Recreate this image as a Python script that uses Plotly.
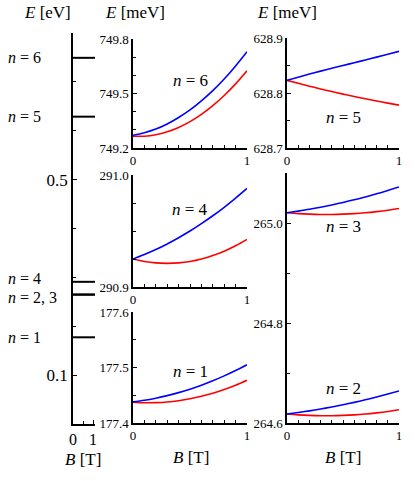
import plotly.graph_objects as go

# ------------------------------
# Data
# ------------------------------
B = [0.0, 0.1, 0.2, 0.3, 0.4, 0.5, 0.6, 0.7, 0.8, 0.9, 1.0]

n6_blue = [749.270, 749.284, 749.304, 749.332, 749.368, 749.410, 749.460, 749.516, 749.580, 749.652, 749.730]
n6_red = [749.265, 749.265, 749.273, 749.289, 749.313, 749.345, 749.385, 749.433, 749.489, 749.553, 749.625]

n4_blue = [290.9250, 290.9290, 290.9334, 290.9384, 290.9440, 290.9500, 290.9566, 290.9636, 290.9712, 290.9794, 290.9880]
n4_red = [290.9250, 290.9228, 290.9215, 290.9211, 290.9215, 290.9228, 290.9250, 290.9281, 290.9320, 290.9368, 290.9425]

n1_blue = [177.4380, 177.4409, 177.4447, 177.4493, 177.4547, 177.4610, 177.4681, 177.4761, 177.4849, 177.4945, 177.5050]
n1_red = [177.4375, 177.4365, 177.4367, 177.4379, 177.4402, 177.4436, 177.4481, 177.4537, 177.4604, 177.4681, 177.4770]

n5_blue = [628.8230, 628.8288, 628.8344, 628.8398, 628.8450, 628.8500, 628.8550, 628.8601, 628.8652, 628.8704, 628.8757]
n5_red = [628.8230, 628.8176, 628.8124, 628.8074, 628.8026, 628.7980, 628.7936, 628.7894, 628.7854, 628.7816, 628.7780]

n3_blue = [265.0205, 265.0238, 265.0274, 265.0315, 265.0361, 265.0410, 265.0464, 265.0521, 265.0583, 265.0650, 265.0720]
n3_red = [265.0205, 265.0188, 265.0177, 265.0171, 265.0171, 265.0177, 265.0188, 265.0205, 265.0228, 265.0256, 265.0290]

n2_blue = [264.6180, 264.6210, 264.6243, 264.6280, 264.6321, 264.6365, 264.6413, 264.6464, 264.6519, 264.6578, 264.6640]
n2_red = [264.6180, 264.6163, 264.6152, 264.6146, 264.6146, 264.6152, 264.6163, 264.6180, 264.6203, 264.6231, 264.6265]

# level scheme (eV) and its labels
levels_eV = [0.1774, 0.2646, 0.2650, 0.2909, 0.6288, 0.7492]
level_label_text = ["<i>n</i> = 1", "<i>n</i> = 2, 3", "<i>n</i> = 4", "<i>n</i> = 5", "<i>n</i> = 6"]
level_label_pos = [0.1774, 0.2646, 0.2909, 0.6288, 0.7492]
level_label_nudge = [0, -3, 3, 0, 0]   # px, pulls the crowded n=2,3 / n=4 labels apart

W, H = 415, 481
SERIF = "Liberation Serif"
BLUE = "#0000ff"
RED = "#ff0000"


def px(x):
    return x / W


def py(y):
    return 1 - y / H


fig = go.Figure()

# ------------------------------
# Left panel: level scheme
# ------------------------------
for e in levels_eV:
    fig.add_trace(go.Scatter(x=[0, 1.1], y=[e, e], mode="lines",
                             line=dict(color="black", width=2),
                             xaxis="x", yaxis="y", showlegend=False, hoverinfo="skip"))

# ------------------------------
# Zeeman panels
# ------------------------------
panels = [
    (n6_blue, n6_red, "2"),
    (n4_blue, n4_red, "3"),
    (n1_blue, n1_red, "4"),
    (n5_blue, n5_red, "5"),
    (n3_blue, n3_red, "6"),
    (n2_blue, n2_red, "6"),
]
for blue, red, ax in panels:
    fig.add_trace(go.Scatter(x=B, y=red, mode="lines", line=dict(color=RED, width=1.6),
                             line_shape="spline", xaxis="x" + ax, yaxis="y" + ax, showlegend=False))
    fig.add_trace(go.Scatter(x=B, y=blue, mode="lines", line=dict(color=BLUE, width=1.6),
                             line_shape="spline", xaxis="x" + ax, yaxis="y" + ax, showlegend=False))


def xax(x0, x1, y_anchor, rng=(0, 1), minor_vals=None, size=13):
    return dict(domain=[px(x0), px(x1)], range=list(rng), anchor=y_anchor, automargin=False,
                showline=True, linecolor="black", linewidth=1.5, showgrid=False, zeroline=False,
                tickmode="array", tickvals=[0, 1], ticktext=["0", "1"],
                ticks="inside", ticklen=4, tickcolor="black",
                minor=dict(tickvals=minor_vals or [0.1 * i for i in range(1, 10)],
                           ticks="inside", ticklen=3, tickcolor="black"),
                tickfont=dict(family=SERIF, size=size, color="black"))


def yax(top, bottom, x_anchor, rng, major, minor, size=13):
    return dict(domain=[py(bottom), py(top)], range=list(rng), anchor=x_anchor, automargin=False,
                showline=True, linecolor="black", linewidth=1.5, showgrid=False, zeroline=False,
                tickmode="array", tickvals=major, ticktext=[f"{v:.1f}" for v in major],
                ticks="inside", ticklen=4, tickcolor="black",
                minor=dict(tickvals=minor, ticks="inside", ticklen=3, tickcolor="black"),
                tickfont=dict(family=SERIF, size=size, color="black"))


layout = dict(
    width=W, height=H, margin=dict(l=0, r=0, t=0, b=0, pad=0),
    paper_bgcolor="white", plot_bgcolor="rgba(0,0,0,0)",
    xaxis=xax(73, 95, "y", rng=(0, 1.1), minor_vals=[0.5], size=16),
    yaxis=yax(33, 424, "x", (0, 0.8), [0.1, 0.5],
              [0.2, 0.3, 0.4, 0.6, 0.7], size=17),
    xaxis2=xax(133, 247, "y2"),
    yaxis2=yax(39, 148, "x2", (749.2, 749.8), [749.2, 749.5, 749.8],
               [749.3, 749.4, 749.6, 749.7]),
    xaxis3=xax(133, 247, "y3"),
    yaxis3=yax(175, 287, "x3", (290.9, 291.0), [290.9, 291.0],
               [290.925, 290.95, 290.975]),
    xaxis4=xax(133, 247, "y4"),
    yaxis4=yax(312, 423, "x4", (177.4, 177.6), [177.4, 177.5, 177.6],
               [177.45, 177.55]),
    xaxis5=xax(287, 399, "y5"),
    yaxis5=yax(38, 148, "x5", (628.7, 628.9), [628.7, 628.8, 628.9],
               [628.75, 628.85]),
    xaxis6=xax(287, 399, "y6"),
    yaxis6=yax(173, 423, "x6", (264.6, 265.1), [264.6, 264.8, 265.0],
               [264.7, 264.9, 265.1]),
)
fig.update_layout(**layout)

# ------------------------------
# Text
# ------------------------------
big = dict(family=SERIF, size=17, color="black")
ann = []
for txt, e, dy in zip(level_label_text, level_label_pos, level_label_nudge):
    ann.append(dict(text=txt, xref="paper", yref="y", x=px(6), y=e, xanchor="left",
                    yanchor="middle", yshift=dy, showarrow=False,
                    font=dict(family=SERIF, size=16, color="black")))

panel_labels = [("6", "2", 749.574), ("4", "3", 290.969), ("1", "4", 177.492),
                ("5", "5", 628.756), ("3", "6", 264.992), ("2", "6", 264.670)]
for n, ax, yv in panel_labels:
    ann.append(dict(text=f"<i>n</i> = {n}", xref="x" + ax, yref="y" + ax, x=0.5, y=yv,
                    xanchor="center", yanchor="middle", showarrow=False, font=big))

for txt, x in [("<i>E</i> [eV]", 47), ("<i>E</i> [meV]", 135), ("<i>E</i> [meV]", 287)]:
    ann.append(dict(text=txt, xref="paper", yref="paper", x=px(x), y=py(13),
                    xanchor="center", yanchor="middle", showarrow=False, font=big))
for x, y in [(83, 459), (191, 457), (343, 457)]:
    ann.append(dict(text="<i>B</i> [T]", xref="paper", yref="paper", x=px(x), y=py(y),
                    xanchor="center", yanchor="middle", showarrow=False, font=big))

fig.update_layout(annotations=ann)

# the page body has a default 8px margin; drop it so the figure sits at the window corner
fig.write_html("out.html", config={"displayModeBar": False},
               post_script="document.body.style.margin='0px';")
